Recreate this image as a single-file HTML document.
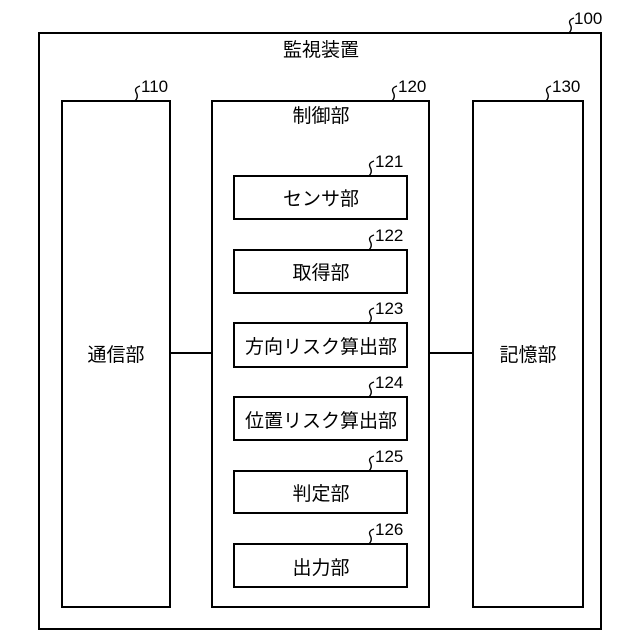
<!DOCTYPE html>
<html><head><meta charset="utf-8"><style>
html,body{margin:0;padding:0;background:#fff;}
svg{display:block}
text{font-family:"Liberation Sans","Noto Sans CJK JP",sans-serif;fill:#000}
</style></head><body>
<svg width="640" height="640" viewBox="0 0 640 640" xmlns="http://www.w3.org/2000/svg">
<g fill="none" stroke="#000" stroke-width="2">
<rect x="39" y="33" width="562" height="596"/>
<rect x="62" y="101" width="108" height="506"/>
<rect x="212" y="101" width="217" height="506"/>
<rect x="473" y="101" width="110" height="506"/>
<rect x="234" y="176" width="173" height="43"/>
<rect x="234" y="250" width="173" height="43"/>
<rect x="234" y="323" width="173" height="44"/>
<rect x="234" y="397" width="173" height="43"/>
<rect x="234" y="471" width="173" height="42"/>
<rect x="234" y="544" width="173" height="43"/>
<line x1="170" y1="353" x2="212" y2="353"/>
<line x1="429" y1="353" x2="473" y2="353"/>
</g>
<g fill="none" stroke="#000" stroke-width="1.3">
<path d="M574,18 q-6,2 -4,6 q3,5 -1,9"/>
<path d="M140,86 q-6,2 -4,6 q3,5 -1,9"/>
<path d="M397,86 q-6,2 -4,6 q3,5 -1,9"/>
<path d="M551,86 q-6,2 -4,6 q3,5 -1,9"/>
<path d="M374,161 q-6,2 -4,6 q3,5 -1,9"/>
<path d="M374,235 q-6,2 -4,6 q3,5 -1,9"/>
<path d="M374,308 q-6,2 -4,6 q3,5 -1,9"/>
<path d="M374,382 q-6,2 -4,6 q3,5 -1,9"/>
<path d="M374,456 q-6,2 -4,6 q3,5 -1,9"/>
<path d="M374,529 q-6,2 -4,6 q3,5 -1,9"/>
</g>
<g font-size="17">
<text x="574" y="24">100</text>
<text x="141" y="92">110</text>
<text x="398" y="92">120</text>
<text x="552" y="92">130</text>
<text x="375" y="167">121</text>
<text x="375" y="241">122</text>
<text x="375" y="314">123</text>
<text x="375" y="388">124</text>
<text x="375" y="462">125</text>
<text x="375" y="535">126</text>
</g>
<g font-size="19" text-anchor="middle">
<text x="321" y="56">監視装置</text>
<text x="321" y="122">制御部</text>
<text x="116" y="361">通信部</text>
<text x="528" y="361">記憶部</text>
<text x="321" y="205">センサ部</text>
<text x="321" y="279">取得部</text>
<text x="321" y="353">方向リスク算出部</text>
<text x="321" y="427">位置リスク算出部</text>
<text x="321" y="500">判定部</text>
<text x="321" y="574">出力部</text>
</g>
</svg>
</body></html>
